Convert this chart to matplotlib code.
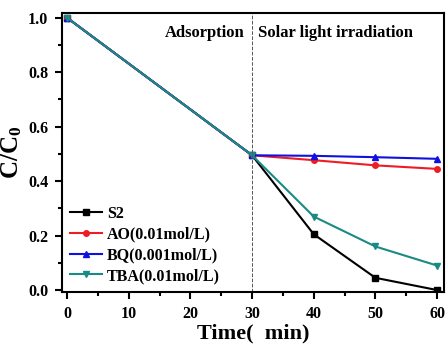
import numpy as np
import matplotlib
matplotlib.use('Agg')
import matplotlib.pyplot as plt

plt.rcParams['font.family'] = 'Liberation Serif'
plt.rcParams['font.weight'] = 'bold'
plt.rcParams['mathtext.fontset'] = 'custom'
plt.rcParams['mathtext.rm'] = 'Liberation Serif:bold'
plt.rcParams['mathtext.bf'] = 'Liberation Serif:bold'

time = [0, 30, 40, 50, 60]
s2 = [1.0, 0.495, 0.205, 0.045, 0.0]
ao = [1.0, 0.495, 0.477, 0.458, 0.445]
bq = [1.0, 0.495, 0.493, 0.488, 0.482]
tba = [1.0, 0.495, 0.27, 0.16, 0.09]
labels = ['S2', 'AO(0.01mol/L)', 'BQ(0.001mol/L)', 'TBA(0.01mol/L)']

fig = plt.figure(figsize=(4.47, 3.48), dpi=100)
ax = fig.add_axes([0.139, 0.161, 0.854, 0.802])

ax.plot(time, s2, c='black', marker='s', ms=4, lw=1.5, label=labels[0])
ax.plot(time, ao, c='#ee1c24', marker='o', ms=4, lw=1.5, label=labels[1])
ax.plot(time, bq, c='#1010e0', marker='^', ms=5, lw=1.5, label=labels[2])
ax.plot(time, tba, c='#1a8a84', marker='v', ms=5, lw=1.5, label=labels[3])

ax.axvline(30, c='#555555', ls='--', lw=0.7)
ax.text(28.8, 0.945, 'Adsorption', ha='right', va='center', fontsize=12, fontweight='bold')
ax.text(31.0, 0.945, 'Solar light irradiation', ha='left', va='center', fontsize=12, fontweight='bold')

ax.set_xlim(-0.8, 61.1)
ax.set_ylim(-0.007, 1.018)
ax.set_xticks([0, 10, 20, 30, 40, 50, 60])
ax.set_xticks(np.arange(5, 60, 10), minor=True)
ax.set_yticks([0.0, 0.2, 0.4, 0.6, 0.8, 1.0])
ax.set_yticks([0.1, 0.3, 0.5, 0.7, 0.9], minor=True)
ax.tick_params(which='both', direction='out', width=1.5, labelsize=11.5, pad=5)
ax.tick_params(which='major', length=5)
ax.tick_params(which='minor', length=3)
for sp in ax.spines.values():
    sp.set_linewidth(1.5)

ax.set_xlabel('Time(  min)', fontsize=16, fontweight='bold', labelpad=1)
ax.set_ylabel(r'$\mathbf{C/C_0}$', fontsize=18, labelpad=3)

ax.legend(loc='lower left', frameon=False, fontsize=11.5, handlelength=2.0,
          handletextpad=0.3, labelspacing=0.3, borderaxespad=0.1)

plt.savefig('out.png', dpi=100)
